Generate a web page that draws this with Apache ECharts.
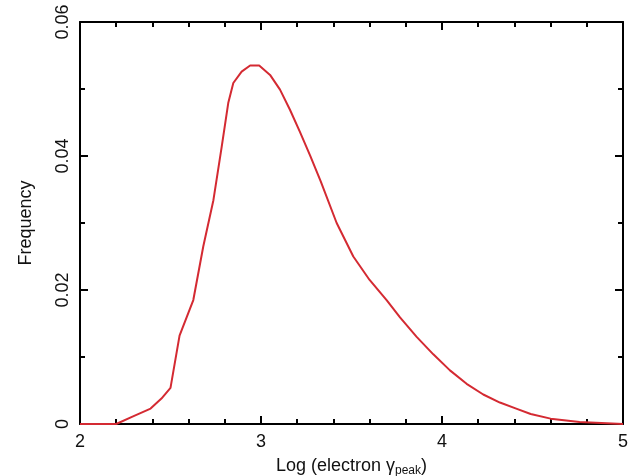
<!DOCTYPE html>
<html>
<head>
<meta charset="utf-8">
<script src="https://cdn.jsdelivr.net/npm/echarts@6/dist/echarts.min.js"></script>
<style>html,body{margin:0;padding:0;background:#fff;}#c{width:629px;height:476px;}</style>
</head>
<body>
<div id="c"></div>
<script>
// Log(electron gamma_peak) values
var xValues = [2.00, 2.20, 2.29, 2.39, 2.45, 2.50, 2.55, 2.626, 2.681, 2.737, 2.783, 2.819, 2.847, 2.893, 2.94, 2.99, 3.05, 3.105, 3.16, 3.215, 3.271, 3.33, 3.418, 3.51, 3.60, 3.694, 3.768, 3.86, 3.952, 4.044, 4.136, 4.228, 4.32, 4.41, 4.49, 4.60, 4.76, 5.00];
// Frequency values
var yValues = [0, 0, 0.0011, 0.0023, 0.0038, 0.0054, 0.0132, 0.0185, 0.0265, 0.0334, 0.0414, 0.0479, 0.0509, 0.0526, 0.0535, 0.0535, 0.0521, 0.0499, 0.0469, 0.0436, 0.0401, 0.0362, 0.0300, 0.0250, 0.0215, 0.0185, 0.0159, 0.0130, 0.0104, 0.0080, 0.0060, 0.0044, 0.0032, 0.0023, 0.0015, 0.0008, 0.0003, 0];
var xTickLabels = ['2', '3', '4', '5'];
var yTickLabels = ['0', '0.02', '0.04', '0.06'];

var seriesData = xValues.map(function (x, i) { return [x, yValues[i]]; });
var font = 'Liberation Sans, Arial, sans-serif';
var lineStyle = { color: '#000', width: 2 };

function xAxisBase(pos, showLabel) {
  return {
    type: 'value', position: pos, min: 2, max: 5, interval: 1,
    axisLine: { show: true, onZero: false, lineStyle: lineStyle },
    axisTick: { show: true, inside: true, length: 8, lineStyle: lineStyle },
    minorTick: { show: true, splitNumber: 5, length: 5, lineStyle: lineStyle },
    splitLine: { show: false },
    axisLabel: {
      show: showLabel, color: '#111', fontFamily: font, fontSize: 18, margin: 9,
      formatter: function (v) { return xTickLabels[Math.round(v - 2)]; }
    }
  };
}
function yAxisBase(pos, showLabel) {
  return {
    type: 'value', position: pos, min: 0, max: 0.06, interval: 0.02,
    axisLine: { show: true, onZero: false, lineStyle: lineStyle },
    axisTick: { show: true, inside: true, length: 8, lineStyle: lineStyle },
    minorTick: { show: true, splitNumber: 2, length: 5, lineStyle: lineStyle },
    splitLine: { show: false },
    axisLabel: {
      show: showLabel, color: '#111', fontFamily: font, fontSize: 18, rotate: 90, margin: 8,
      formatter: function (v) { return yTickLabels[Math.round(v / 0.02)]; }
    }
  };
}

var xMain = xAxisBase('bottom', true);
xMain.name = '{a|Log (electron γ}{b|peak}{a|)}';
xMain.nameLocation = 'middle';
xMain.nameGap = 31;
xMain.nameTextStyle = {
  rich: {
    a: { fontFamily: font, fontSize: 18, color: '#111' },
    b: { fontFamily: font, fontSize: 12, color: '#111', padding: [10, 0, 0, 0] }
  }
};
var yMain = yAxisBase('left', true);
yMain.name = 'Frequency';
yMain.nameLocation = 'middle';
yMain.nameGap = 45;
yMain.nameTextStyle = { fontFamily: font, fontSize: 18, color: '#111' };

var chart = echarts.init(document.getElementById('c'), null, { renderer: 'canvas' });
chart.setOption({
  backgroundColor: '#fff',
  animation: false,
  grid: { left: 80, right: 6, top: 22, bottom: 52, containLabel: false, outerBoundsMode: 'none' },
  xAxis: [xMain, xAxisBase('top', false)],
  yAxis: [yMain, yAxisBase('right', false)],
  series: [{
    type: 'line', xAxisIndex: 0, yAxisIndex: 0,
    data: seriesData, showSymbol: false, smooth: false,
    lineStyle: { color: '#d42a32', width: 2 }
  }]
});
</script>
</body>
</html>
